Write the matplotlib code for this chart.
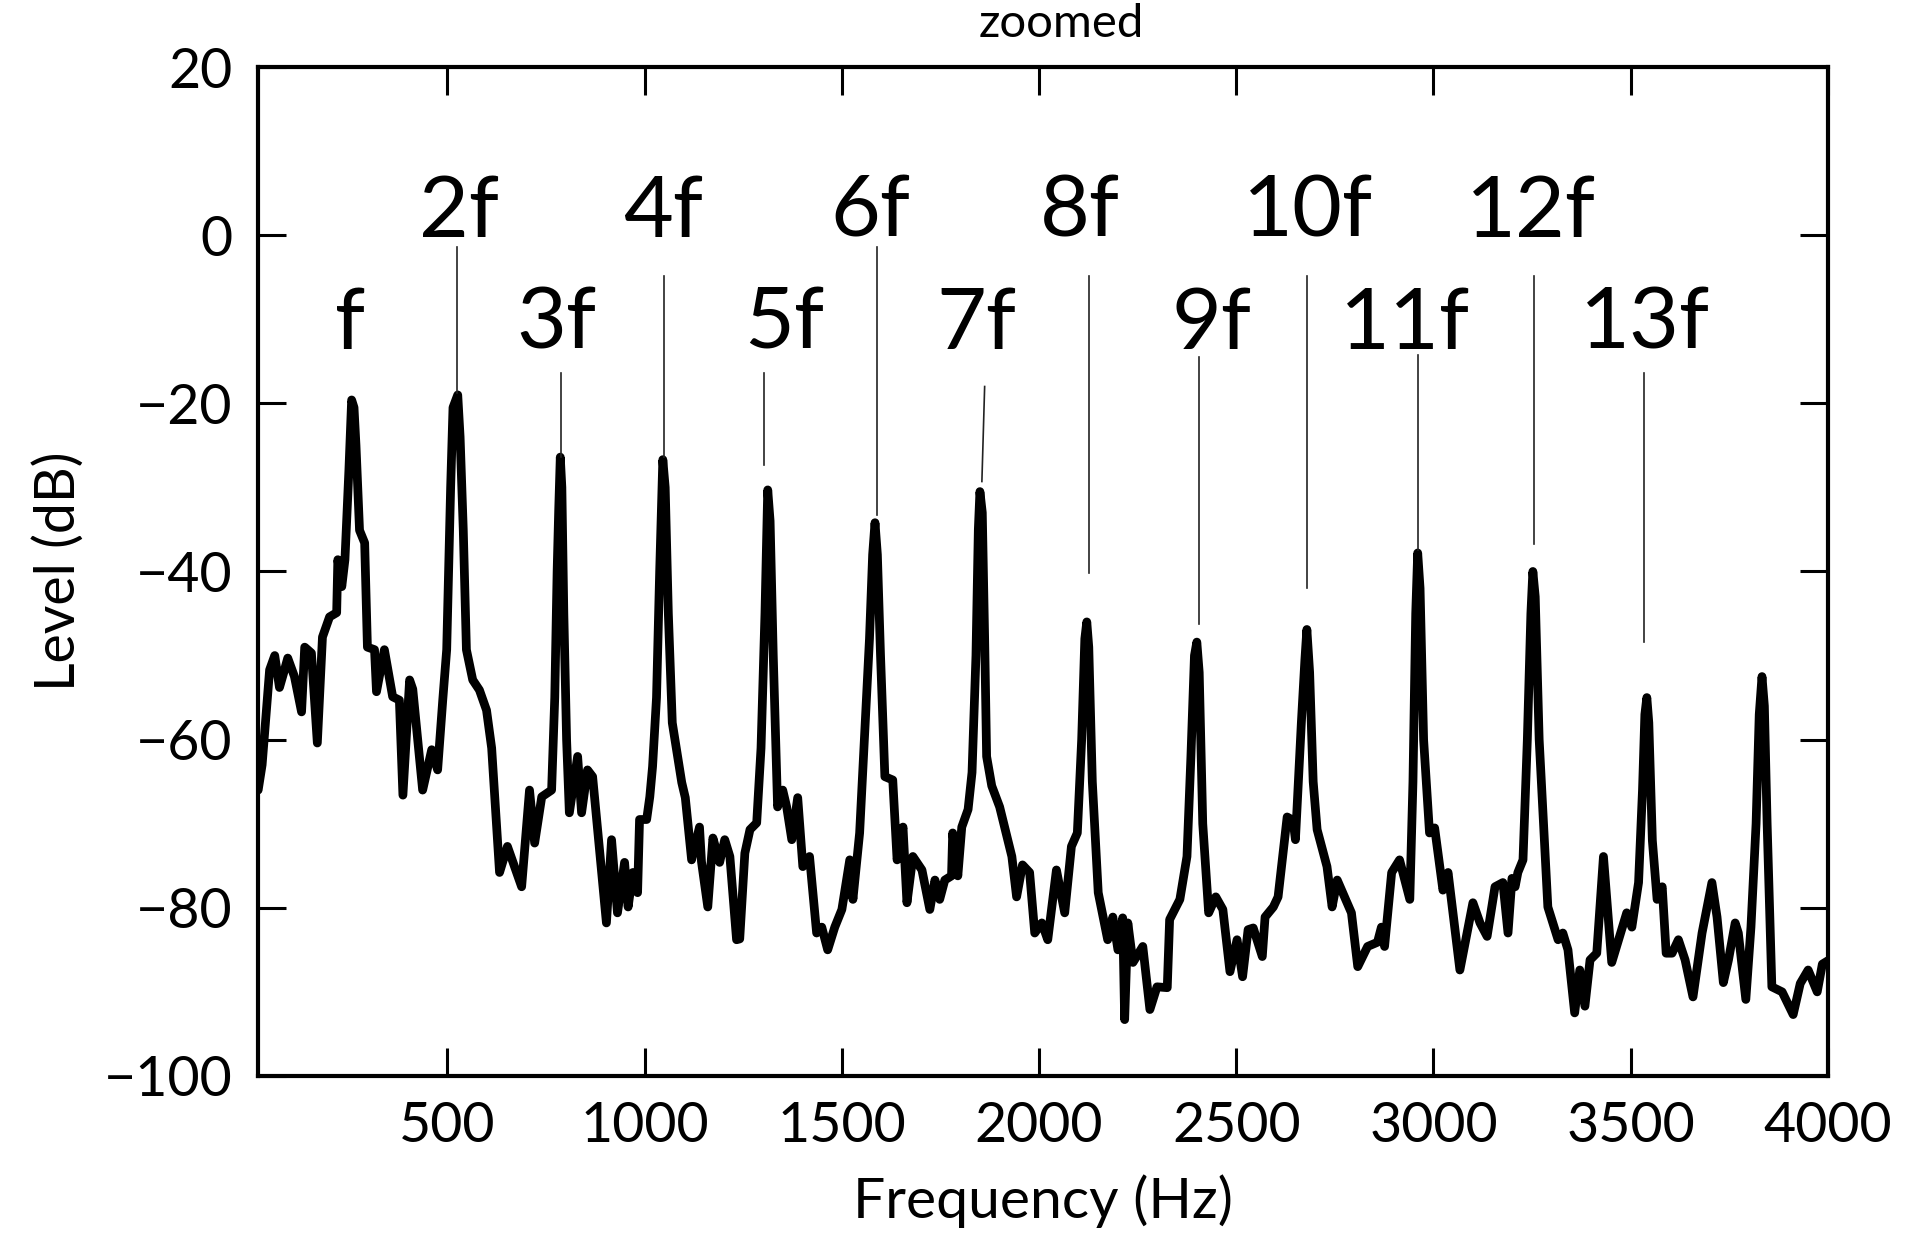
import matplotlib
matplotlib.use("Agg")
import matplotlib.pyplot as plt
import numpy as np

plt.rcParams['font.family'] = ['Lato', 'DejaVu Sans']

# spectrum (Hz, dB)
freq = [20, 30, 40, 49, 62, 74, 85, 95, 112, 130, 138, 155, 170, 183, 201, 219, 222, 232, 240,
        250, 257, 263, 268, 277, 290, 297, 315, 320, 340, 361, 378, 387, 404, 412, 437, 460, 475,
        488, 498, 508, 514, 526, 532, 540, 548, 564, 581, 599, 612, 632, 652, 688, 708, 721, 739,
        764, 772, 778, 782, 786, 790, 795, 802, 809, 830, 840, 855, 868, 903, 916, 931, 949, 958,
        970, 982, 987, 1005, 1013, 1020, 1030, 1038, 1046, 1052, 1060, 1070, 1094, 1103, 1119,
        1139, 1144, 1160, 1173, 1190, 1203, 1216, 1233, 1241, 1254, 1267, 1284, 1295, 1305, 1312,
        1318, 1326, 1337, 1350, 1360, 1373, 1388, 1401, 1418, 1436, 1449, 1464, 1482, 1500, 1520,
        1528, 1545, 1558, 1570, 1578, 1584, 1590, 1598, 1609, 1629, 1640, 1655, 1665, 1680, 1703,
        1723, 1736, 1748, 1761, 1778, 1781, 1794, 1804, 1820, 1830, 1840, 1846, 1850, 1856, 1862,
        1867, 1880, 1900, 1931, 1943, 1958, 1976, 1989, 2007, 2022, 2044, 2065, 2082, 2097, 2108,
        2116, 2121, 2126, 2135, 2150, 2174, 2187, 2200, 2212, 2217, 2225, 2238, 2263, 2281, 2299,
        2325, 2331, 2357, 2375, 2385, 2394, 2400, 2406, 2415, 2430, 2448, 2466, 2484, 2502, 2516,
        2530, 2543, 2566, 2573, 2594, 2606, 2629, 2644, 2650, 2665, 2674, 2679, 2686, 2695, 2705,
        2730, 2743, 2756, 2792, 2808, 2833, 2858, 2868, 2876, 2894, 2914, 2940, 2948, 2955, 2960,
        2966, 2975, 2990, 3003, 3024, 3037, 3067, 3100, 3118, 3136, 3156, 3176, 3189, 3199, 3207,
        3214, 3227, 3238, 3247, 3252, 3258, 3268, 3290, 3316, 3328, 3341, 3358, 3371, 3384, 3397,
        3414, 3431, 3452, 3490, 3503, 3520, 3530, 3536, 3541, 3546, 3555, 3567, 3580, 3590, 3605,
        3621, 3638, 3658, 3681, 3706, 3719, 3735, 3748, 3765, 3773, 3792, 3805, 3818, 3826, 3833,
        3839, 3846, 3858, 3884, 3912, 3930, 3950, 3973, 3986, 4000]
level = [-66, -63, -57, -51.7, -50, -53.8, -52, -50.3, -52.5, -56.7, -49, -49.7, -60.4, -47.8,
         -45.4, -44.9, -38.6, -41.8, -38.6, -28, -19.6, -20.5, -25, -35.1, -36.6, -49.0, -49.3,
         -54.3, -49.3, -54.9, -55.3, -66.6, -52.9, -54, -66.0, -61.2, -63.6, -55.3, -49.3, -30,
         -20.5, -19.0, -24, -35, -49.3, -52.9, -54.1, -56.5, -61, -75.8, -72.7, -77.5, -66.0,
         -72.3, -66.8, -66.0, -55, -40, -32.7, -26.4, -30, -45, -60, -68.7, -62.0, -68.7, -63.6,
         -64.4, -81.8, -71.9, -80.6, -74.6, -79.9, -75.8, -78.2, -69.5, -69.5, -66.8, -63.2, -55,
         -40, -26.7, -30, -45, -58, -65.1, -66.9, -74.3, -70.4, -74.5, -79.9, -71.7, -74.6, -71.9,
         -73.9, -83.8, -83.7, -73.5, -70.7, -69.9, -61, -45, -30.3, -34, -50, -68.0, -66.0, -68,
         -71.9, -66.9, -75.1, -73.9, -83.0, -82.3, -85.0, -82.3, -80.2, -74.3, -79.0, -71.1,
         -59.2, -48, -38, -34.2, -38, -50, -64.4, -64.8, -74.3, -70.4, -79.4, -73.9, -75.5, -80.2,
         -76.7, -79.0, -76.7, -76.2, -71.1, -76.2, -70.4, -68.3, -63.9, -50, -35, -30.5, -33, -48,
         -62.0, -65.5, -68.0, -73.9, -78.7, -74.9, -75.8, -83.0, -81.8, -83.8, -75.5, -80.6, -72.7,
         -71.1, -60, -48, -46.0, -49, -65, -78.2, -83.8, -81.1, -85.0, -81.2, -93.3, -81.8, -86.5,
         -84.6, -92.1, -89.4, -89.5, -81.4, -79.0, -73.9, -62, -50, -48.4, -52, -70, -80.6, -78.7,
         -80.2, -87.6, -83.8, -88.2, -82.6, -82.4, -85.8, -81.1, -79.9, -78.7, -69.2, -69.6, -71.9,
         -58, -50.5, -46.9, -52, -65, -70.7, -75.1, -79.9, -76.7, -80.6, -87.0, -84.6, -84.1,
         -82.3, -84.6, -75.8, -74.3, -79.0, -65, -45, -37.8, -42, -60, -71.1, -70.5, -77.9, -75.8,
         -87.4, -79.4, -81.8, -83.4, -77.5, -77.0, -83.0, -76.5, -77.5, -75.8, -74.3, -60, -45,
         -40.0, -43, -60, -79.9, -83.8, -83, -85, -92.5, -87.4, -91.7, -86.2, -85.4, -73.9, -86.5,
         -80.6, -82.3, -77.0, -66, -57, -55.0, -58, -72, -79.0, -77.5, -85.4, -85.4, -83.8, -86.2,
         -90.6, -83, -77.0, -81.1, -88.9, -86.2, -81.8, -83, -90.9, -82.3, -70, -57, -52.5, -56,
         -70, -89.4, -90, -92.7, -89, -87.4, -90.0, -86.7, -86.3]

# harmonic labels
labels = ['f', '2f', '3f', '4f', '5f', '6f', '7f', '8f', '9f', '10f', '11f', '12f', '13f']
label_x = [252, 528, 777, 1046, 1355, 1571, 1842, 2103, 2436, 2681, 2927, 3247, 3536]
label_y = [-13.5, -0.2, -13.5, -0.2, -13.5, -0.2, -13.5, -0.2, -13.5, -0.2, -13.5, -0.2, -13.5]

# pointer lines: x top, y top, x bottom, y bottom (none for f)
line_x0 = [523, 787, 1048, 1302, 1588, 1862, 2126, 2405, 2679, 2960, 3254, 3533]
line_y0 = [-1.4, -16.4, -4.9, -16.4, -1.4, -18.0, -4.9, -14.5, -4.9, -14.2, -4.9, -16.4]
line_x1 = [523, 787, 1048, 1302, 1588, 1855, 2126, 2405, 2679, 2960, 3254, 3533]
line_y1 = [-18.8, -26.4, -26.4, -27.3, -33.3, -29.3, -40.2, -46.3, -42.0, -37.4, -36.7, -48.4]

fig = plt.figure(figsize=(19.08, 12.41), dpi=100)
ax = fig.add_axes([0.135, 0.133, 0.823, 0.813])

ax.plot(freq, level, color='black', lw=6.3, solid_joinstyle='round', solid_capstyle='round')

for x0, y0, x1, y1 in zip(line_x0, line_y0, line_x1, line_y1):
    ax.plot([x0, x1], [y0, y1], color='#222222', lw=1.2)

for t, x, y in zip(labels, label_x, label_y):
    ax.text(x, y, t, fontsize=62, ha='center', va='baseline')

ax.set_xlim(18.5, 4000)
ax.set_ylim(-100, 20)
ax.set_xticks([500, 1000, 1500, 2000, 2500, 3000, 3500, 4000])
ax.set_yticks([-100, -80, -60, -40, -20, 0, 20])
ax.tick_params(direction='in', length=20, width=2.2, labelsize=40, pad=18,
               top=True, right=True)
for s in ax.spines.values():
    s.set_linewidth(3)

ax.set_xlabel('Frequency (Hz)', fontsize=41, labelpad=16)
ax.set_ylabel('Level (dB)', fontsize=40, labelpad=14)
fig.text(0.556, 0.981, 'zoomed', fontsize=34, ha='center', va='center')

fig.savefig('out.png', dpi=100)
